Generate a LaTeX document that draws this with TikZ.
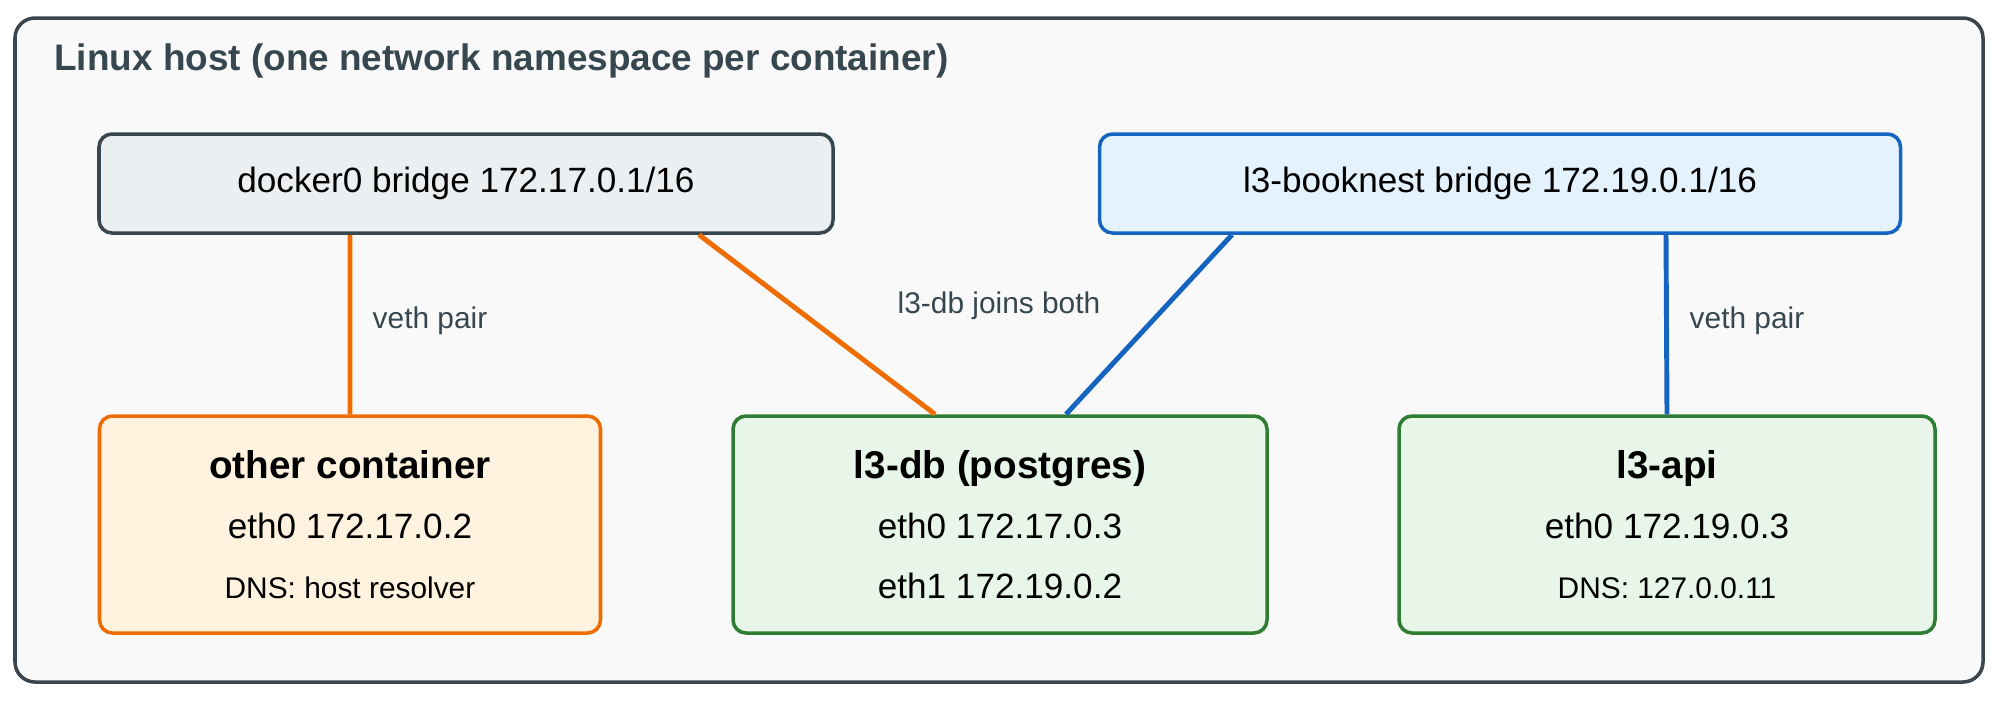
\documentclass[tikz,border=0pt]{standalone}
\usepackage{fontspec}
\setmainfont{Liberation Sans}
\usetikzlibrary{positioning}
\definecolor{hostfill}{HTML}{F9F9F9}
\definecolor{hostline}{HTML}{3C444C}
\definecolor{greyfill}{HTML}{ECEFF1}
\definecolor{greyline}{HTML}{37474F}
\definecolor{bluefill}{HTML}{E3F2FD}
\definecolor{blueline}{HTML}{1565C0}
\definecolor{orangefill}{HTML}{FFF3E0}
\definecolor{orangeline}{HTML}{EF6C00}
\definecolor{greenfill}{HTML}{E8F5E9}
\definecolor{greenline}{HTML}{2E7D32}
\definecolor{textgrey}{HTML}{37474F}
\begin{document}
\begin{tikzpicture}

\tikzset{
  bridge/.style={rectangle, draw, rounded corners=0.13cm, line width=1pt,
    minimum height=0.99cm, font=\fontsize{10}{12}\selectfont},
  box/.style={rectangle, draw, rounded corners=0.13cm, line width=1pt,
    minimum height=2.17cm, align=center, font=\fontsize{10}{17}\selectfont},
  link/.style={line width=1.4pt},
  tag/.style={text=textgrey, font=\fontsize{8.5}{10}\selectfont}
};

\useasboundingbox (0,0) rectangle (20,7);
\draw[rounded corners=0.2cm, fill=hostfill, draw=hostline, line width=1pt]
  (0.15,0.18) rectangle (19.83,6.82);
\node[anchor=west, text=textgrey, font=\bfseries\fontsize{10.5}{12}\selectfont]
  (host) at (0.42,6.39) {Linux host (one network namespace per container)};

\node[bridge, fill=greyfill, draw=greyline, minimum width=7.34cm] (docker) at (4.66,5.165)
  {docker0 bridge 172.17.0.1/16};
\node[bridge, fill=bluefill, draw=blueline, minimum width=8.01cm] (booknest) at (15.0,5.165)
  {l3-booknest bridge 172.19.0.1/16};

\node[box, fill=orangefill, draw=orangeline, minimum width=5.01cm] (other) at (3.5,1.755)
  {{\bfseries\fontsize{11}{13}\selectfont other container}\\ eth0 172.17.0.2\\
   {\fontsize{8.5}{10}\selectfont DNS: host resolver}};
\node[box, fill=greenfill, draw=greenline, minimum width=5.34cm] (db) at (10.0,1.755)
  {{\bfseries\fontsize{11}{13}\selectfont l3-db (postgres)}\\ eth0 172.17.0.3\\ eth1 172.19.0.2};
\node[box, fill=greenfill, draw=greenline, minimum width=5.36cm] (api) at (16.67,1.755)
  {{\bfseries\fontsize{11}{13}\selectfont l3-api}\\ eth0 172.19.0.3\\
   {\fontsize{8.5}{10}\selectfont DNS: 127.0.0.11}};

% veth links
\draw[link, orangeline] ([xshift=-1.16cm]docker.south) -- (other.north);
\draw[link, orangeline] ([xshift=2.33cm]docker.south) -- ([xshift=-0.65cm]db.north);
\draw[link, blueline] ([xshift=-2.68cm]booknest.south) -- ([xshift=0.66cm]db.north);
\draw[link, blueline] ([xshift=1.66cm]booknest.south) -- (api.north);

\node[tag] (vethl) at (4.3,3.79) {veth pair};
\node[tag] (joins) at (9.99,3.94) {l3-db joins both};
\node[tag] (vethr) at (17.47,3.79) {veth pair};

\end{tikzpicture}
\end{document}
